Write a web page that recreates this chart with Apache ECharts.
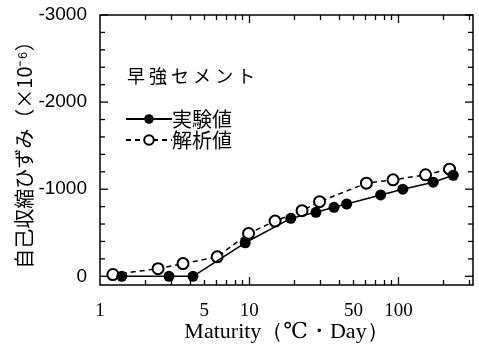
<!DOCTYPE html>
<html>
<head>
<meta charset="utf-8">
<script src="https://cdn.jsdelivr.net/npm/echarts@6/dist/echarts.min.js"></script>
<style>
html,body{margin:0;padding:0;background:#fff;}
#chart{width:479px;height:348px;}
</style>
</head>
<body>
<div id="chart"></div>
<script>
// ---- data ----
const maturityExp = [1.4, 2.9, 4.2, 9.4, 19, 28, 37, 45, 76, 107, 171, 233];
const strainExp   = [0, 0, 0, -385, -665, -735, -792, -830, -934, -1000, -1080, -1160];
const maturityAna = [1.22, 2.45, 3.6, 6.1, 9.9, 14.9, 22.6, 29.6, 61, 92, 152, 220];
const strainAna   = [-20, -88, -146, -223, -492, -634, -753, -857, -1069, -1107, -1165, -1230];
const yTickValues = [-3000, -2000, -1000, 0];
const yMinorValues = [-2800,-2600,-2400,-2200,-1800,-1600,-1400,-1200,-800,-600,-400,-200];
const xTickLabels = [1, 5, 10, 50, 100];
const xMajorTicks = [10, 100];
const xMinorTicks = [2,3,4,5,6,7,8,9,20,30,40,50,60,70,80,90,200,300];
const seriesNames = ['実験値', '解析値'];
const titleText = '早 強 セ メ ン ト';
const xName = 'Maturity（℃・Day）';
const yName = '自己収縮ひずみ（×10⁻⁶）';

const X_MIN = 1, X_MAX = 316;
const Y_MIN = -3000, Y_MAX = 100;
const lg = v => Math.log10(v);
const neg = v => -v;

const chart = echarts.init(document.getElementById('chart'), null, {renderer: 'canvas'});

const cjk = '"Noto Sans CJK JP", "Noto Sans CJK SC", sans-serif';
const serif = '"Liberation Serif", "DejaVu Serif", serif';

function decoX(position, values, len, extra) {
  return Object.assign({
    type: 'value', position: position, min: lg(X_MIN), max: lg(X_MAX),
    axisLine: {show: false, onZero: false}, splitLine: {show: false},
    axisTick: {show: true, inside: true, length: len, customValues: values.map(lg),
               lineStyle: {color: '#000', width: 1.3}},
    axisLabel: {show: false}
  }, extra || {});
}

// y-axis tick marks (both sides, pointing into the plot), placed through the axis scale
const MAJOR_LEN = 8, MINOR_LEN = 5;
const yTickData = yTickValues.map(v => [v, MAJOR_LEN]).concat(yMinorValues.map(v => [v, MINOR_LEN]));
function renderYTick(params, api) {
  const v = api.value(0), len = api.value(1);
  const pL = api.coord([X_MIN, v]);
  const pR = api.coord([X_MAX, v]);
  const style = {stroke: '#000', lineWidth: 1.3};
  return {
    type: 'group',
    children: [
      {type: 'line', shape: {x1: pL[0], y1: pL[1], x2: pL[0] + len, y2: pL[1]}, style: style},
      {type: 'line', shape: {x1: pR[0], y1: pR[1], x2: pR[0] - len, y2: pR[1]}, style: style}
    ]
  };
}

const option = {
  animation: false,
  backgroundColor: '#fff',
  grid: {left: 100, right: 6, top: 15, bottom: 63, show: true,
         borderColor: '#000', borderWidth: 1.5, backgroundColor: 'transparent'},
  title: {
    text: titleText, left: 122, top: 62,
    textStyle: {fontFamily: cjk, fontSize: 18, fontWeight: 'normal', color: '#000'}
  },
  legend: {
    orient: 'vertical', left: 120, top: 104, itemGap: 1,
    itemWidth: 46, itemHeight: 12,
    data: seriesNames,
    textStyle: {fontFamily: cjk, fontSize: 20, color: '#000', padding: [0,0,0,-5]}
  },
  xAxis: [
    {type: 'log', logBase: 10, min: X_MIN, max: X_MAX, show: false, axisLine: {onZero: false}},
    decoX('bottom', xMajorTicks, MAJOR_LEN, {
      axisLabel: {show: true, customValues: xTickLabels.map(lg), margin: 17,
        formatter: v => String(Math.round(Math.pow(10, v))),
        fontFamily: serif, fontSize: 19, color: '#000'},
      name: xName, nameLocation: 'middle', nameGap: 36, nameMoveOverlap: false,
      nameTextStyle: {fontFamily: serif, fontSize: 22, color: '#000'}
    }),
    decoX('bottom', xMinorTicks, MINOR_LEN),
    decoX('top', xMajorTicks, MAJOR_LEN),
    decoX('top', xMinorTicks, MINOR_LEN)
  ],
  yAxis: [
    {type: 'value', inverse: true, min: Y_MIN, max: Y_MAX, show: false, axisLine: {onZero: false}},
    {
      type: 'value', position: 'left', min: -Y_MAX, max: -Y_MIN,
      axisLine: {show: false, onZero: false}, splitLine: {show: false},
      axisTick: {show: false},
      axisLabel: {show: true, customValues: yTickValues.map(neg), margin: 13,
        formatter: v => String(-v),
        fontFamily: '"Liberation Sans", Arial, sans-serif', fontSize: 19, color: '#000'},
      name: yName, nameLocation: 'middle', nameRotate: 90, nameGap: 66, nameMoveOverlap: false,
      nameTextStyle: {fontFamily: cjk, fontSize: 20, color: '#000'}
    }
  ],
  series: [
    {
      type: 'custom', xAxisIndex: 0, yAxisIndex: 0, silent: true, clip: false,
      data: yTickData, renderItem: renderYTick, z: 1
    },
    {
      name: seriesNames[0], type: 'line', xAxisIndex: 0, yAxisIndex: 0,
      data: maturityExp.map((m, i) => [m, strainExp[i]]),
      symbol: 'circle', symbolSize: 11,
      itemStyle: {color: '#000'},
      lineStyle: {color: '#000', width: 1.5},
      z: 3
    },
    {
      name: seriesNames[1], type: 'line', xAxisIndex: 0, yAxisIndex: 0,
      data: maturityAna.map((m, i) => [m, strainAna[i]]),
      symbol: 'emptyCircle', symbolSize: 11,
      itemStyle: {color: '#000', borderColor: '#000', borderWidth: 1.5},
      lineStyle: {color: '#000', width: 1.5, type: [5, 4]},
      z: 2
    }
  ]
};
chart.setOption(option);
</script>
</body>
</html>
